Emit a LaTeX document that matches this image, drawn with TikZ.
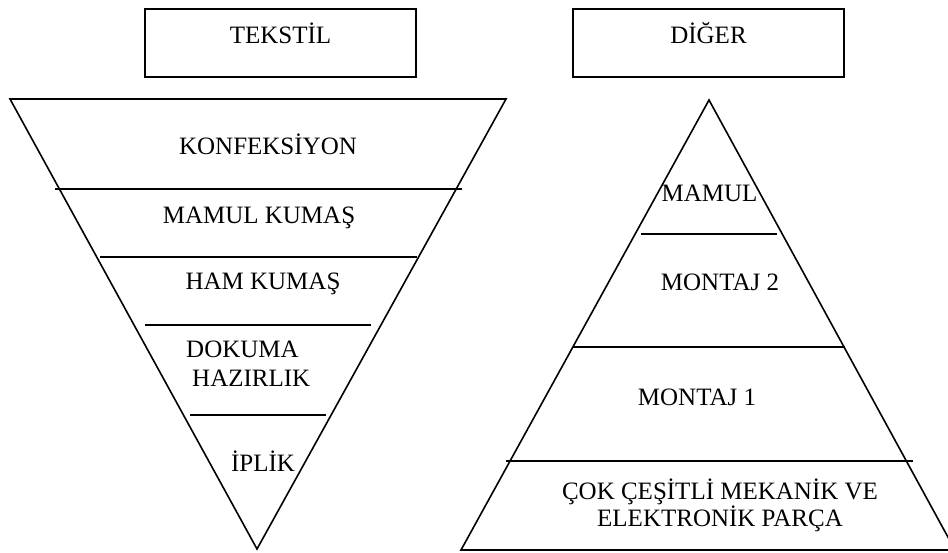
\documentclass[tikz,border=0pt]{standalone}
\usepackage{fontspec}
\setmainfont{Liberation Serif}
\begin{document}
\begin{tikzpicture}[x=1pt,y=-1pt,
  edge/.style={line width=1.6pt, line join=miter},
  tier/.style={line width=1.6pt},
  lbl/.style={inner sep=0pt, anchor=base, font=\fontsize{25}{29}\selectfont},
  headbox/.style={draw, line width=1.8pt, inner xsep=0pt, inner ysep=0pt,
    minimum width=271pt, text height=34pt, text depth=34pt,
    font=\fontsize{25}{29}\selectfont}]
\useasboundingbox (0,0) rectangle (948,552);
\clip (0,0) rectangle (948,552);

% headings
\node[headbox] (tekstil) at (280.5,43) {TEKSTİL};
\node[headbox] (diger) at (708.5,43) {DİĞER};

% inverted pyramid: textile chain
\coordinate (tl) at (10,99);
\coordinate (tr) at (506,99);
\coordinate (tb) at (257,549);
\draw[edge] (tl) -- (tr) -- (tb) -- cycle;
\draw[tier] (55,189) -- (462,189);
\draw[tier] (100,257) -- (417,257);
\draw[tier] (145,325) -- (371,325);
\draw[tier] (190,415) -- (326,415);

\node[lbl] (konf) at (268,154) {KONFEKSİYON};
\node[lbl] (mamulk) at (259,223) {MAMUL KUMAŞ};
\node[lbl] (hamk) at (263,289) {HAM KUMAŞ};
\node[lbl, anchor=north west, align=left] (dokuma) at (186,340.5)
  {DOKUMA\\\hspace*{6pt}HAZIRLIK};
\node[lbl] (iplik) at (263,471) {İPLİK};

% upright pyramid: other sectors
\coordinate (pa) at (709,100);
\coordinate (pl) at (461,550);
\coordinate (pr) at (955,550);
\draw[edge] (pa) -- (pr) -- (pl) -- cycle;
\draw[tier] (641,234) -- (777,234);
\draw[tier] (573,347) -- (845,347);
\draw[tier] (506,461) -- (913,461);

\node[lbl] (mamul) at (709.5,201) {MAMUL};
\node[lbl] (montaj2) at (720,290) {MONTAJ 2};
\node[lbl] (montaj1) at (697,405) {MONTAJ 1};
\node[lbl, anchor=north, align=center, font=\fontsize{25}{27}\selectfont] (parca) at (720,478.5)
  {ÇOK ÇEŞİTLİ MEKANİK VE\\ELEKTRONİK PARÇA};
\end{tikzpicture}
\end{document}
